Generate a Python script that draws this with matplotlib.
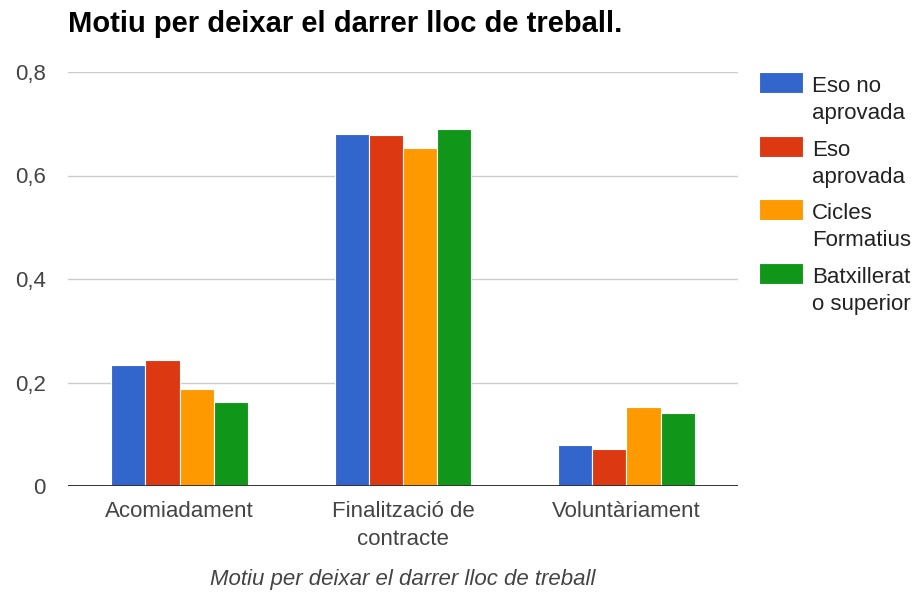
import numpy as np
import matplotlib.pyplot as plt
from matplotlib.patches import Rectangle
from matplotlib.ticker import FuncFormatter

plt.rcParams['font.family'] = ['Liberation Sans', 'DejaVu Sans']

categories = ['Acomiadament', 'Finalització de\ncontracte', 'Voluntàriament']
series = ['Eso no\naprovada', 'Eso\naprovada', 'Cicles\nFormatius', 'Batxillerat\no superior']
eso_no = [0.234, 0.681, 0.079]
eso_si = [0.243, 0.678, 0.072]
cicles = [0.187, 0.654, 0.152]
batx = [0.163, 0.689, 0.142]
values = [eso_no, eso_si, cicles, batx]
colors = ['#3366CC', '#DC3912', '#FF9900', '#109618']

W, H = 915, 593
fig = plt.figure(figsize=(W / 100, H / 100), dpi=100)
ax = fig.add_axes([68 / W, 1 - 486 / H, 670 / W, 414 / H])

x = np.arange(len(categories))
w = 0.153
for i, (vals, c, lab) in enumerate(zip(values, colors, series)):
    ax.bar(x + (i - 1.5) * w, vals, w, color=c, edgecolor='white', linewidth=0.8,
           label=lab, zorder=3)

ax.set_xlim(-0.5, 2.5)
ax.set_ylim(0, 0.8)
ax.set_yticks([0, 0.2, 0.4, 0.6, 0.8])
ax.yaxis.set_major_formatter(FuncFormatter(lambda v, p: '0' if v == 0 else f'{v:.1f}'.replace('.', ',')))
ax.grid(axis='y', color='#cccccc', linewidth=1, zorder=0)
ax.axhline(0, color='#333333', linewidth=1.4, zorder=4)
for s in ax.spines.values():
    s.set_visible(False)
ax.tick_params(axis='both', length=0, labelsize=16, labelcolor='#444444')
ax.tick_params(axis='y', pad=16)
ax.set_xticks(x)
ax.set_xticklabels(categories, linespacing=1.4)
ax.tick_params(axis='x', pad=11)

# axis title and chart title
fig.text(403 / W, 1 - 579 / H, 'Motiu per deixar el darrer lloc de treball', fontsize=16,
         style='italic', color='#444444', va='center', ha='center')
fig.text(68 / W, 1 - 24 / H, 'Motiu per deixar el darrer lloc de treball.',
         fontsize=21, fontweight='bold', va='center', ha='left', color='black')

# legend, drawn by hand so that the swatch sits next to the first line
for i, (c, lab) in enumerate(zip(colors, series)):
    top = 72 + i * 63.7
    fig.add_artist(Rectangle((759 / W, 1 - (top + 21) / H), 44 / W, 21 / H,
                             transform=fig.transFigure, facecolor=c,
                             edgecolor='white', linewidth=0.8))
    for j, line in enumerate(lab.split('\n')):
        fig.text(812 / W, 1 - (top + 20 + j * 27) / H, line, fontsize=16,
                 color='#222222', va='baseline', ha='left')

fig.savefig('out.png', dpi=100)
